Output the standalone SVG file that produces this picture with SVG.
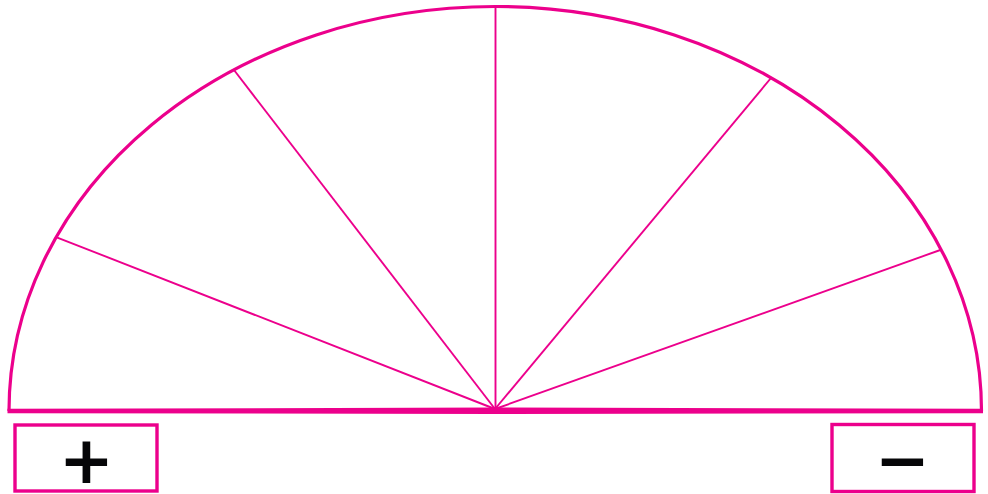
<svg xmlns="http://www.w3.org/2000/svg" width="988" height="494" viewBox="0 0 988 494">
<style>
.arc{fill:none;stroke:#EC008C;stroke-width:3.2}
.base{stroke:#EC008C;stroke-width:4.5;stroke-linecap:butt}
.ray{stroke:#EC008C;stroke-width:1.9}
.box{fill:#fff;stroke:#EC008C;stroke-width:3.4}
.sign{font-family:"DejaVu Sans","Liberation Sans",sans-serif;font-weight:bold;font-size:66px;fill:#060608;text-anchor:middle}
</style>
<rect width="988" height="494" fill="#fff"/>
<g id="protractor">
<path class="arc" d="M 9 411 A 486.25 404.5 0 0 1 981.5 411"/>
<path fill="#EC008C" d="M 7.5 408.8 L 495 407.5 L 983 408.8 L 983 413.2 L 495 414 L 7.5 413.2 Z"/>
</g>
<g id="connectors">
<line class="ray" x1="495" y1="409" x2="56.7" y2="237.3"/>
<line class="ray" x1="495" y1="409" x2="234" y2="70"/>
<line class="ray" x1="495.5" y1="409" x2="495.5" y2="6.5"/>
<line class="ray" x1="495" y1="409" x2="771" y2="78"/>
<line class="ray" x1="495" y1="409" x2="941.7" y2="249.5"/>
</g>
<g id="plus">
<rect class="box" x="15" y="425" width="142" height="66"/>
<text class="sign" x="86.5" y="483">+</text>
</g>
<g id="minus">
<rect class="box" x="832" y="424.5" width="142" height="67"/>
<text class="sign" x="902.5" y="483">−</text>
</g>
</svg>
